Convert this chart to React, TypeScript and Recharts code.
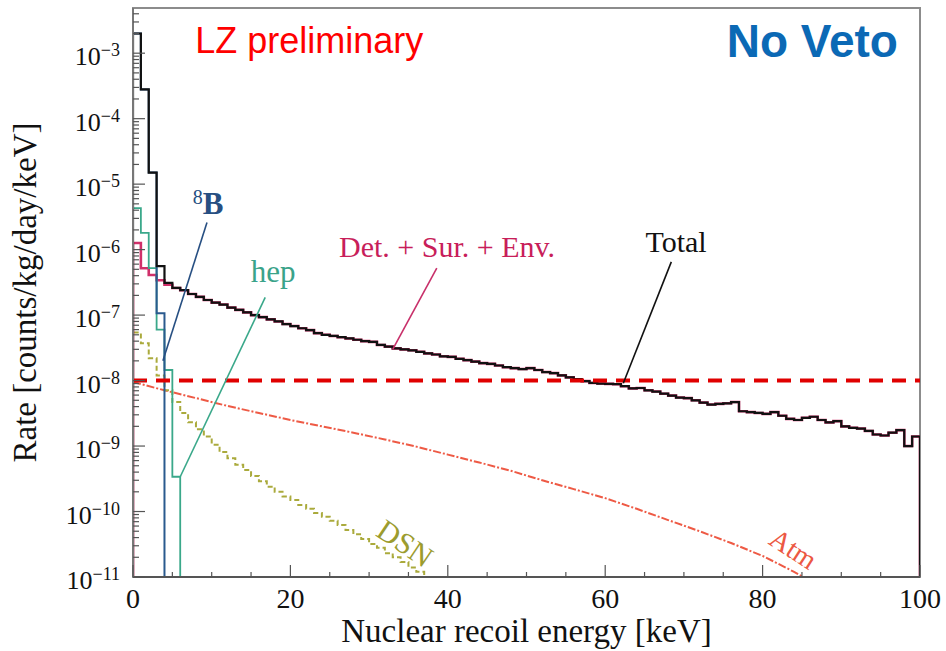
import {
  ComposedChart,
  Line,
  XAxis,
  YAxis,
  ReferenceLine,
  ReferenceArea,
  ReferenceDot,
  Label,
} from "recharts";

/**
 * Expected nuclear-recoil rates in LZ with no veto: detector/surface/environment
 * background, the neutrino components (8B, hep, DSN, atmospheric) and the total.
 * Histograms use 1 keV bins starting at 0 keV.
 */

const SERIF = '"Liberation Serif", "Times New Roman", serif';
const SANS = '"Liberation Sans", Arial, sans-serif';

// Empty bins are drawn down to this value, below the visible range.
const FLOOR = 1e-13;
const Y_MIN = 1e-11;
const Y_MAX = 4.9e-3;

// counts/kg/day/keV per 1 keV bin
const totalRate = [
  2.0e-3, 2.8e-4, 1.5e-5, 5.6e-7, 3.1e-7, 2.6e-7, 2.4e-7, 2.1e-7, 1.9e-7, 1.7e-7,
  1.55e-7, 1.45e-7, 1.3e-7, 1.2e-7, 1.1e-7, 1.0e-7, 9.3e-8, 8.6e-8, 8.0e-8, 7.3e-8,
  6.8e-8, 6.3e-8, 5.9e-8, 5.3e-8, 5.0e-8, 4.8e-8, 4.6e-8, 4.4e-8, 4.2e-8, 4.0e-8,
  3.9e-8, 3.5e-8, 3.3e-8, 3.1e-8, 3.0e-8, 2.9e-8, 2.75e-8, 2.6e-8, 2.5e-8, 2.35e-8,
  2.3e-8, 2.15e-8, 2.05e-8, 1.95e-8, 1.85e-8, 1.8e-8, 1.7e-8, 1.6e-8, 1.55e-8, 1.5e-8,
  1.55e-8, 1.45e-8, 1.35e-8, 1.3e-8, 1.2e-8, 1.12e-8, 1.05e-8, 9.8e-9, 9.2e-9, 9.0e-9,
  8.9e-9, 8.8e-9, 8.2e-9, 7.6e-9, 7.7e-9, 7.1e-9, 6.8e-9, 6.3e-9, 5.9e-9, 5.5e-9,
  5.4e-9, 5.0e-9, 4.6e-9, 4.3e-9, 4.4e-9, 4.5e-9, 4.7e-9, 3.4e-9, 3.3e-9, 3.2e-9,
  3.1e-9, 3.3e-9, 2.9e-9, 2.6e-9, 2.5e-9, 2.7e-9, 2.8e-9, 2.5e-9, 2.3e-9, 2.4e-9,
  2.0e-9, 1.9e-9, 1.85e-9, 1.7e-9, 1.5e-9, 1.45e-9, 1.6e-9, 1.75e-9, 1.0e-9, 1.4e-9,
];

// Det. + Sur. + Env.: separate below 5 keV, identical to the total above it
const detLowRate = [1.26e-6, 5.2e-7, 4.1e-7, 3.4e-7, 2.9e-7];
const detRate = [...detLowRate, ...totalRate.slice(detLowRate.length)];

const b8Rate = [2.0e-3, 2.8e-4, 1.5e-5, 1.07e-7];
const hepRate = [4.3e-6, 1.8e-6, 5.2e-7, 6.0e-8, 1.45e-8, 3.4e-10];

const dsnRate = [
  5.4e-8, 3.7e-8, 2.2e-8, 1.2e-8, 7.1e-9, 4.7e-9, 3.2e-9, 2.3e-9, 1.8e-9, 1.4e-9,
  1.05e-9, 8.1e-10, 6.5e-10, 5.2e-10, 4.3e-10, 3.5e-10, 2.9e-10, 2.4e-10, 2.0e-10, 1.7e-10,
  1.5e-10, 1.26e-10, 1.1e-10, 9.5e-11, 8.3e-11, 7.2e-11, 6.2e-11, 5.2e-11, 4.5e-11, 3.8e-11,
  3.2e-11, 2.8e-11, 2.3e-11, 2.0e-11, 1.7e-11, 1.4e-11, 1.2e-11, 9.5e-12,
];

const atmEnergy = [0, 4, 8, 12, 16, 20, 24, 28, 32, 36, 40, 44, 48, 52, 56, 60, 64, 68, 72, 76, 80, 84, 87];
const atmRate = [
  9.5e-9, 7.1e-9, 5.4e-9, 4.1e-9, 3.2e-9, 2.5e-9, 2.0e-9, 1.6e-9, 1.26e-9, 9.8e-10,
  7.4e-10, 5.6e-10, 4.2e-10, 3.0e-10, 2.2e-10, 1.6e-10, 1.1e-10, 7.4e-11, 5.0e-11, 3.3e-11,
  2.1e-11, 1.2e-11, 7.5e-12,
];

const LIMIT = 1e-8;

const xTicks = [0, 5, 10, 15, 20, 25, 30, 35, 40, 45, 50, 55, 60, 65, 70, 75, 80, 85, 90, 95, 100];
const yDecades = [-11, -10, -9, -8, -7, -6, -5, -4, -3];
const yMinor = [2, 3, 4, 5, 6, 7, 8, 9];
const yTicks = yDecades
  .flatMap((d) => [1, ...yMinor].map((m) => m * 10 ** d))
  .filter((v) => v <= Y_MAX);

type Pt = { x: number; y: number };

// ROOT-style histogram outline: rises from the floor at 0 and drops back at the last edge
function histogram(values: number[]): Pt[] {
  const pts: Pt[] = [{ x: 0, y: FLOOR }];
  values.forEach((v, i) => pts.push({ x: i, y: v }));
  pts.push({ x: values.length, y: values[values.length - 1] });
  pts.push({ x: values.length, y: FLOOR });
  return pts;
}

const atmData: Pt[] = atmEnergy.map((x, i) => ({ x, y: atmRate[i] }));

function isDecade(v: number) {
  const l = Math.log10(v);
  return Math.abs(l - Math.round(l)) < 1e-9;
}

function YTick({ x, y, payload }: any) {
  const v = payload.value as number;
  const major = isDecade(v);
  return (
    <g>
      <line x1={x} x2={x + (major ? 12 : 6)} y1={y} y2={y} stroke="#555" strokeWidth={1.2} />
      {major && (
        <text x={x - 13} y={y + 12} textAnchor="end" fontFamily={SERIF} fontSize={26} fill="#111">
          10
          <tspan fontSize={18} dy={-9}>
            {"\u2212" + Math.abs(Math.round(Math.log10(v)))}
          </tspan>
        </text>
      )}
    </g>
  );
}

function XTick({ x, y, payload }: any) {
  const v = payload.value as number;
  const major = v % 20 === 0;
  return (
    <g>
      <line x1={x} x2={x} y1={y} y2={y - (major ? 12 : 5)} stroke="#555" strokeWidth={1.2} />
      {major && (
        <text x={x} y={y + 31} textAnchor="middle" fontFamily={SERIF} fontSize={28} fill="#111">
          {v}
        </text>
      )}
    </g>
  );
}

function XTitle({ viewBox }: any) {
  const { x, y, width } = viewBox;
  return (
    <text x={x + width / 2} y={y + 65} textAnchor="middle" fontFamily={SERIF} fontSize={33} fill="#111">
      Nuclear recoil energy [keV]
    </text>
  );
}

function YTitle({ viewBox }: any) {
  const { x, y, height } = viewBox;
  const cx = x + 25;
  const cy = y + height / 2;
  return (
    <text
      x={cx}
      y={cy}
      transform={`rotate(-90 ${cx} ${cy})`}
      textAnchor="middle"
      dominantBaseline="central"
      fontFamily={SERIF}
      fontSize={33}
      fill="#111"
    >
      Rate [counts/kg/day/keV]
    </text>
  );
}

// Red dashed limit line with a soft drop shadow underneath
function ShadowedDash({ x1, y1, x2, y2 }: any) {
  return (
    <g>
      <defs>
        <filter id="dashShadow" x="-5%" y="-200%" width="110%" height="500%">
          <feGaussianBlur stdDeviation={2.2} />
        </filter>
      </defs>
      <line
        x1={x1}
        x2={x2}
        y1={y1 + 6}
        y2={y2 + 6}
        stroke="#000"
        strokeOpacity={0.3}
        strokeWidth={4}
        strokeDasharray="14 9"
        filter="url(#dashShadow)"
      />
      <line x1={x1} x2={x2} y1={y1} y2={y2} stroke="#e00000" strokeWidth={4} strokeDasharray="14 9" />
    </g>
  );
}

type Note = {
  x: number;
  y: number;
  color: string;
  anchor: "start" | "middle" | "end";
  size: number;
  family: string;
  weight?: number;
  rotate?: number;
  content: React.ReactNode;
};

const notes: Note[] = [
  { x: 7.9, y: 1.0e-3, color: "#ff0000", anchor: "start", size: 36, family: SANS, content: "LZ preliminary" },
  { x: 97.2, y: 8.7e-4, color: "#0b69b5", anchor: "end", size: 46, family: SANS, weight: 700, content: "No Veto" },
  {
    x: 7.6,
    y: 3.5e-6,
    color: "#274f82",
    anchor: "start",
    size: 31,
    family: SERIF,
    content: (
      <>
        <tspan fontSize={20} dy={-10}>8</tspan>
        <tspan fontWeight={700} dy={10}>B</tspan>
      </>
    ),
  },
  { x: 17.8, y: 3.2e-7, color: "#3aa38a", anchor: "middle", size: 31, family: SERIF, content: "hep" },
  { x: 39.9, y: 7.7e-7, color: "#c81e5a", anchor: "middle", size: 30, family: SERIF, content: "Det. + Sur. + Env." },
  { x: 69.0, y: 9.2e-7, color: "#111", anchor: "middle", size: 30, family: SERIF, content: "Total" },
  { x: 34.6, y: 3.3e-11, color: "#9c9c2e", anchor: "middle", size: 30, family: SERIF, rotate: 34, content: "DSN" },
  { x: 83.9, y: 2.7e-11, color: "#ec5843", anchor: "middle", size: 28, family: SERIF, rotate: 33, content: "Atm" },
];

const leaders = [
  { from: { x: 9.4, y: 2.6e-6 }, to: { x: 3.8, y: 2.0e-8 }, color: "#274f82" },
  { from: { x: 16.8, y: 1.86e-7 }, to: { x: 6.0, y: 3.4e-10 }, color: "#3aa88a" },
  { from: { x: 38.6, y: 5.2e-7 }, to: { x: 33.0, y: 3.0e-8 }, color: "#c8306a" },
  { from: { x: 68.4, y: 6.5e-7 }, to: { x: 62.3, y: 9.1e-9 }, color: "#111" },
];

function noteShape(n: Note) {
  return (p: any) => {
    const { cx, cy } = p;
    return (
      <text
        x={cx}
        y={cy}
        textAnchor={n.anchor}
        dominantBaseline={n.rotate ? "central" : undefined}
        transform={n.rotate ? `rotate(${n.rotate} ${cx} ${cy})` : undefined}
        fontFamily={n.family}
        fontSize={n.size}
        fontWeight={n.weight ?? 400}
        fill={n.color}
      >
        {n.content}
      </text>
    );
  };
}

export default function App() {
  return (
    <div style={{ position: "absolute", left: 0, top: 0, background: "#fff" }}>
      <ComposedChart width={946} height={651} margin={{ top: 8, right: 26, bottom: 0, left: 0 }}>
        <XAxis
          type="number"
          dataKey="x"
          domain={[0, 100]}
          ticks={xTicks}
          interval={0}
          tick={<XTick />}
          tickSize={0}
          tickMargin={0}
          tickLine={false}
          axisLine={{ stroke: "#555", strokeWidth: 2 }}
          height={74}
          allowDataOverflow
        >
          <Label content={<XTitle />} />
        </XAxis>
        <YAxis
          type="number"
          scale="log"
          domain={[Y_MIN, Y_MAX]}
          ticks={yTicks}
          interval={0}
          tick={<YTick />}
          tickSize={0}
          tickMargin={0}
          tickLine={false}
          axisLine={{ stroke: "#777", strokeWidth: 2 }}
          width={133}
          allowDataOverflow
        >
          <Label content={<YTitle />} />
        </YAxis>

        <ReferenceArea x1={0} x2={100} y1={Y_MIN} y2={Y_MAX} fill="none" stroke="#8c8c8c" strokeWidth={2} />

        <Line data={atmData} dataKey="y" type="linear" stroke="#ee5a45" strokeWidth={2} strokeDasharray="8 2 2 2" dot={false} isAnimationActive={false} />
        <Line data={histogram(dsnRate)} dataKey="y" type="stepAfter" stroke="#aaaa3c" strokeWidth={2} strokeDasharray="5 3" dot={false} isAnimationActive={false} />
        <Line data={histogram(detRate)} dataKey="y" type="stepAfter" stroke="#d0306a" strokeWidth={2.6} dot={false} isAnimationActive={false} />
        <Line data={histogram(hepRate)} dataKey="y" type="stepAfter" stroke="#3aa88a" strokeWidth={1.8} dot={false} isAnimationActive={false} />
        <Line data={histogram(b8Rate)} dataKey="y" type="stepAfter" stroke="#2a5a8e" strokeWidth={2} dot={false} isAnimationActive={false} />
        <Line data={histogram(totalRate)} dataKey="y" type="stepAfter" stroke="#111" strokeWidth={2.2} dot={false} isAnimationActive={false} />

        <ReferenceLine y={LIMIT} shape={<ShadowedDash />} />

        {leaders.map((l, i) => (
          <ReferenceLine key={i} segment={[l.from, l.to]} stroke={l.color} strokeWidth={1.6} />
        ))}
        {notes.map((n, i) => (
          <ReferenceDot key={i} x={n.x} y={n.y} r={0} shape={noteShape(n)} />
        ))}
      </ComposedChart>
    </div>
  );
}
